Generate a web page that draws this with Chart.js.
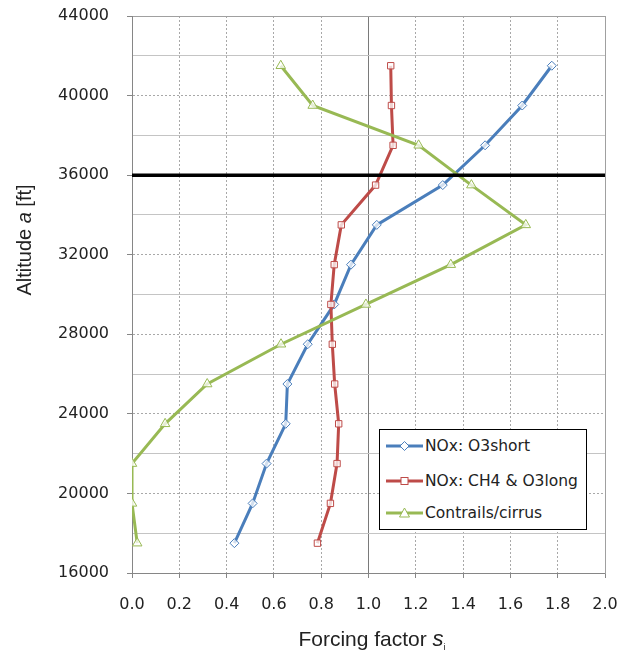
<!DOCTYPE html>
<html>
<head>
<meta charset="utf-8">
<script src="https://cdn.jsdelivr.net/npm/chart.js@4.4.0/dist/chart.umd.min.js"></script>
<style>
  body { margin: 0; background: #fff; }
  #wrap { position: relative; width: 631px; height: 659px; }
  #legend {
    position: absolute; left: 379px; top: 429px; width: 206px; height: 99px;
    border: 1.5px solid #000; background: #fff;
    font-family: "DejaVu Sans", sans-serif; font-size: 15.5px; color: #222;
  }
  .item { position: absolute; left: 6px; height: 20px; display: flex; align-items: center; white-space: nowrap; }
  .item svg { margin-right: 2px; }
</style>
</head>
<body>
<div id="wrap">
  <canvas id="chart" width="631" height="659"></canvas>
  <div id="legend"></div>
</div>
<script>
// altitude of each point, ft
const altitudes = [17500, 19500, 21500, 23500, 25500, 27500, 29500, 31500, 33500, 35500, 37500, 39500, 41500];
// forcing factors, bottom to top
const o3short = [0.433, 0.510, 0.569, 0.650, 0.657, 0.743, 0.855, 0.926, 1.035, 1.314, 1.493, 1.650, 1.775];
const ch4O3long = [0.784, 0.839, 0.867, 0.874, 0.857, 0.847, 0.841, 0.855, 0.885, 1.030, 1.104, 1.097, 1.094];
const contrails = [0.022, 0.0, 0.0, 0.140, 0.318, 0.630, 0.989, 1.348, 1.665, 1.435, 1.212, 0.764, 0.629];
const seriesNames = ["NOx: O3short", "NOx: CH4 & O3long", "Contrails/cirrus"];
const cruiseAltitude = 36000;
const xMin = 0, xMax = 2, yMin = 16000, yMax = 44000;
const xTickStep = 0.2, yTickStep = 4000;
// horizontal grid lines drawn solid (the rest are dotted)
const solidGridAltitudes = [18000, 22000, 26000, 30000, 34000, 38000, 42000, 44000];

const colors = ["#4a7ebb", "#be4b48", "#98b954"];
const markers = ["rectRot", "rect", "triangle"];
const markerSizes = [4.5, 4.5, 5.5];

function toPoints(values) {
  return values.map((v, i) => ({ x: v, y: altitudes[i] }));
}

const seriesValues = [o3short, ch4O3long, contrails];
const datasets = seriesValues.map((vals, i) => ({
  label: seriesNames[i],
  data: toPoints(vals),
  borderColor: colors[i],
  borderWidth: 3,
  pointStyle: markers[i],
  pointRadius: markerSizes[i],
  pointBorderWidth: 1,
  pointBorderColor: colors[i],
  pointBackgroundColor: "rgba(255,255,255,0.75)",
  tension: 0,
  order: 3 - i
}));
datasets.push({
  label: "cruise",
  data: [{ x: xMin, y: cruiseAltitude }, { x: xMax, y: cruiseAltitude }],
  borderColor: "#000",
  borderWidth: 3.5,
  pointRadius: 0,
  order: 0
});

// axis titles with italic parts
function drawRuns(ctx, runs, cx, cy) {
  let total = 0;
  runs.forEach(r => { ctx.font = r.font; r.w = ctx.measureText(r.t).width; total += r.w; });
  let x = cx - total / 2;
  runs.forEach(r => {
    ctx.font = r.font;
    ctx.fillText(r.t, x, cy + (r.dy || 0));
    x += r.w;
  });
}

const axisTitles = {
  id: "axisTitles",
  afterDraw(chart) {
    const ctx = chart.ctx;
    ctx.save();
    ctx.fillStyle = "#222";
    ctx.textBaseline = "middle";
    ctx.textAlign = "left";
    drawRuns(ctx, [
      { t: "Forcing factor ", font: "21px 'Liberation Sans'" },
      { t: "s", font: "italic 22px 'Liberation Sans'" },
      { t: "i", font: "9px 'Liberation Sans'", dy: 8 }
    ], 372, 640);
    ctx.translate(25, 240);
    ctx.rotate(-Math.PI / 2);
    drawRuns(ctx, [
      { t: "Altitude ", font: "20px 'Liberation Sans'" },
      { t: "a", font: "italic 20px 'Liberation Sans'" },
      { t: " [ft]", font: "20px 'Liberation Sans'" }
    ], 0, 0);
    ctx.restore();
  }
};

new Chart(document.getElementById("chart"), {
  type: "line",
  data: { datasets: datasets },
  plugins: [axisTitles],
  options: {
    responsive: false,
    animation: false,
    layout: { padding: 0 },
    plugins: { legend: { display: false }, tooltip: { enabled: false } },
    scales: {
      x: {
        type: "linear", position: "bottom", min: xMin, max: xMax,
        afterFit: s => { s.height = 86; s.paddingLeft = 0; s.paddingRight = 0; },
        ticks: {
          stepSize: xTickStep, padding: 17, color: "#222",
          font: { family: "DejaVu Sans", size: 16 },
          callback: v => v.toFixed(1)
        },
        grid: { color: "#a8a8a8", tickLength: 5, tickColor: "#868686", tickBorderDash: [] },
        border: { color: "#868686", dash: [2, 2] }
      },
      x2: {
        type: "linear", position: "top", min: xMin, max: xMax,
        afterFit: s => { s.height = 16; },
        afterBuildTicks: s => { s.ticks = [{ value: 1 }]; },
        ticks: { display: false },
        grid: { color: "#7a7a7a", drawTicks: false },
        border: { color: "#a0a0a0" }
      },
      y: {
        type: "linear", position: "left", min: yMin, max: yMax,
        afterFit: s => { s.width = 132; s.paddingTop = 0; s.paddingBottom = 0; },
        ticks: {
          stepSize: yTickStep, padding: 18, color: "#222",
          font: { family: "DejaVu Sans", size: 16 },
          callback: v => String(v)
        },
        grid: { color: "#a8a8a8", tickLength: 5, tickColor: "#868686", tickBorderDash: [] },
        border: { color: "#868686", dash: [2, 2] }
      },
      y2: {
        type: "linear", position: "right", min: yMin, max: yMax,
        afterFit: s => { s.width = 26; s.paddingTop = 0; s.paddingBottom = 0; },
        afterBuildTicks: s => { s.ticks = solidGridAltitudes.map(v => ({ value: v })); },
        ticks: { display: false },
        grid: { color: "#c4c4c4", drawTicks: false },
        border: { color: "#a0a0a0" }
      }
    }
  }
});

// legend box
const legend = document.getElementById("legend");
const rowTops = [6, 41, 73];
function markerSvg(i) {
  const c = colors[i];
  let m = "";
  if (i === 0) m = `<polygon points="18.5,1.5 23,6 18.5,10.5 14,6" fill="#fff" stroke="${c}" stroke-width="1"/>`;
  if (i === 1) m = `<rect x="15" y="2.5" width="7" height="7" fill="#fff" stroke="${c}" stroke-width="1"/>`;
  if (i === 2) m = `<polygon points="18.5,1 23.5,10 13.5,10" fill="#fff" stroke="${c}" stroke-width="1"/>`;
  return `<svg width="37" height="12"><line x1="0" y1="6" x2="37" y2="6" stroke="${c}" stroke-width="3"/>${m}</svg>`;
}
seriesNames.forEach((name, i) => {
  const el = document.createElement("div");
  el.className = "item";
  el.style.top = rowTops[i] + "px";
  el.innerHTML = markerSvg(i) + "<span>" + name + "</span>";
  legend.appendChild(el);
});
</script>
</body>
</html>
